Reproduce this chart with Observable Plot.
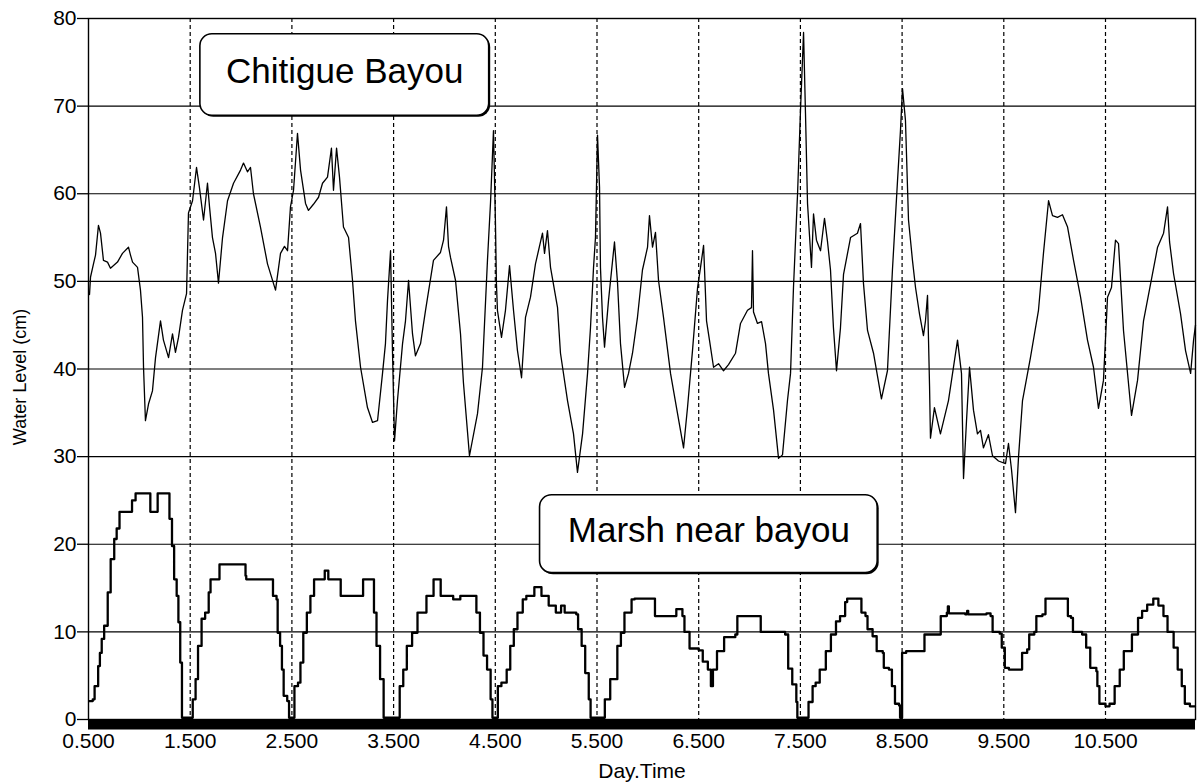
<!DOCTYPE html>
<html>
<head>
<meta charset="utf-8">
<script src="https://cdn.jsdelivr.net/npm/d3@7"></script>
<script src="https://cdn.jsdelivr.net/npm/@observablehq/plot@0.6"></script>
<style>
  html, body { margin: 0; padding: 0; background: #fff; }
  #chart { width: 1202px; height: 783px; }
</style>
</head>
<body>
<div id="chart"></div>
<script>
// ---------- data ----------
const xTicks = [0.5, 1.5, 2.5, 3.5, 4.5, 5.5, 6.5, 7.5, 8.5, 9.5, 10.5];
const yTicks = [0, 10, 20, 30, 40, 50, 60, 70, 80];
const seriesNames = ["Chitigue Bayou", "Marsh near bayou"];

const bayouDay = [0.510,0.520,0.549,0.569,0.598,0.618,0.647,0.687,0.716,0.785,0.834,0.893,0.913,0.933,0.982,1.011,1.031,1.041,1.060,1.090,1.129,1.159,1.208,1.237,1.287,1.326,1.355,1.385,1.424,1.464,1.483,1.523,1.562,1.591,1.631,1.670,1.690,1.719,1.749,1.778,1.818,1.867,1.926,1.995,2.024,2.063,2.093,2.122,2.191,2.260,2.339,2.388,2.427,2.457,2.486,2.516,2.555,2.585,2.634,2.663,2.712,2.762,2.801,2.850,2.889,2.909,2.939,2.968,3.007,3.057,3.096,3.125,3.175,3.243,3.293,3.342,3.391,3.420,3.440,3.470,3.489,3.509,3.538,3.588,3.617,3.647,3.686,3.715,3.765,3.814,3.892,3.961,3.991,4.020,4.040,4.060,4.109,4.158,4.187,4.246,4.325,4.374,4.423,4.453,4.482,4.501,4.511,4.521,4.561,4.600,4.640,4.679,4.718,4.758,4.797,4.846,4.895,4.964,4.984,5.013,5.043,5.112,5.141,5.210,5.269,5.308,5.358,5.407,5.436,5.466,5.485,5.505,5.525,5.534,5.554,5.574,5.613,5.672,5.702,5.731,5.771,5.810,5.849,5.898,5.947,5.997,6.016,6.046,6.075,6.105,6.154,6.223,6.292,6.351,6.390,6.439,6.489,6.518,6.548,6.577,6.606,6.646,6.695,6.744,6.793,6.862,6.911,6.980,7.019,7.029,7.039,7.078,7.118,7.157,7.186,7.236,7.285,7.324,7.373,7.403,7.432,7.472,7.501,7.531,7.550,7.570,7.609,7.629,7.658,7.698,7.737,7.767,7.796,7.825,7.855,7.894,7.924,7.993,8.061,8.091,8.120,8.160,8.219,8.297,8.356,8.405,8.455,8.484,8.504,8.533,8.563,8.602,8.632,8.671,8.710,8.730,8.750,8.770,8.779,8.818,8.877,8.956,9.045,9.084,9.104,9.133,9.163,9.202,9.241,9.271,9.300,9.349,9.389,9.448,9.517,9.546,9.576,9.615,9.645,9.684,9.762,9.841,9.890,9.940,9.979,10.028,10.077,10.127,10.186,10.255,10.323,10.382,10.431,10.480,10.520,10.559,10.598,10.628,10.677,10.756,10.815,10.874,10.963,11.012,11.071,11.110,11.130,11.169,11.238,11.287,11.337,11.366,11.385];
const bayouLevel = [48.5,50.5,52.0,53.0,56.4,55.5,52.4,52.2,51.5,52.2,53.2,53.9,53.0,52.2,51.6,49.0,45.9,40.2,34.1,36.0,37.5,41.3,45.5,43.3,41.3,44.0,41.9,43.6,46.7,48.6,57.8,59.2,63.0,60.7,57.0,61.2,58.5,55.0,53.2,49.8,55.0,59.2,61.2,62.7,63.5,62.5,63.0,60.0,56.2,52.0,49.0,53.2,54.0,53.5,58.5,60.4,66.9,62.7,58.9,58.1,58.8,59.6,61.2,61.9,65.2,60.4,65.2,61.9,56.2,55.0,50.1,45.5,40.2,35.6,33.9,34.1,39.5,42.9,47.8,53.5,42.0,31.8,36.4,42.9,45.5,50.1,44.0,41.5,42.9,46.7,52.4,53.3,54.7,58.5,54.0,52.7,50.1,44.0,38.4,30.1,34.9,40.2,52.4,59.0,67.2,57.0,49.8,46.7,43.6,46.7,51.8,46.7,42.1,39.0,45.9,48.2,52.0,55.5,53.2,55.8,51.6,47.0,41.8,36.4,32.6,28.2,32.6,39.5,44.7,51.6,55.0,66.7,60.7,51.6,45.9,42.5,47.8,54.5,49.8,42.9,37.9,39.5,41.8,45.9,51.3,53.9,57.5,53.9,55.6,50.1,45.9,39.5,34.9,31.0,35.6,42.1,49.3,51.6,54.1,45.5,43.3,40.2,40.6,39.8,40.5,41.8,45.2,46.7,47.0,53.5,46.5,45.2,45.4,42.9,39.5,35.3,29.8,30.2,36.4,39.5,49.3,60.0,69.5,78.4,69.2,58.9,51.6,57.7,54.7,53.5,57.2,54.5,51.3,44.7,39.8,44.7,50.8,55.0,55.5,56.6,49.8,44.4,41.8,36.6,39.8,51.3,61.5,67.2,72.0,68.4,57.0,52.4,49.3,46.3,43.8,45.5,48.4,38.0,32.1,35.6,32.6,36.4,43.3,39.5,27.5,34.0,40.2,35.3,32.6,33.0,31.0,32.5,30.1,29.5,29.2,31.5,28.5,23.6,30.0,36.4,41.3,46.7,53.2,59.2,57.5,57.3,57.6,56.2,52.4,48.2,43.3,40.2,35.5,38.7,48.2,49.3,54.7,54.3,44.4,34.7,38.7,45.5,50.9,53.9,55.5,58.5,54.5,50.9,46.3,42.1,39.5,43.3,45.0];

const marshDay = [0.507,0.542,0.560,0.595,0.612,0.630,0.654,0.689,0.718,0.753,0.777,0.805,0.893,0.928,0.963,1.103,1.108,1.174,1.180,1.279,1.296,1.321,1.342,1.367,1.384,1.402,1.419,1.507,1.525,1.553,1.577,1.612,1.647,1.682,1.700,1.770,1.788,2.016,2.044,2.051,2.296,2.314,2.349,2.360,2.384,2.402,2.419,2.454,2.472,2.507,2.525,2.560,2.584,2.612,2.647,2.682,2.718,2.770,2.823,2.858,2.946,2.980,3.191,3.200,3.296,3.307,3.332,3.367,3.402,3.542,3.560,3.595,3.630,3.682,3.735,3.823,3.858,3.893,3.946,3.963,4.086,4.156,4.296,4.314,4.349,4.384,4.419,4.454,4.472,4.507,4.525,4.560,4.595,4.612,4.647,4.682,4.718,4.770,4.805,4.884,4.954,5.025,5.095,5.147,5.182,5.296,5.314,5.349,5.384,5.419,5.437,5.542,5.577,5.630,5.700,5.735,5.770,5.840,5.870,6.050,6.070,6.260,6.280,6.340,6.360,6.410,6.500,6.540,6.590,6.620,6.640,6.680,6.750,6.860,6.880,7.100,7.110,7.350,7.380,7.420,7.460,7.470,7.560,7.580,7.620,7.650,7.690,7.750,7.800,7.850,7.890,7.940,7.960,8.080,8.100,8.140,8.160,8.210,8.250,8.310,8.320,8.370,8.400,8.430,8.470,8.480,8.490,8.500,8.540,8.680,8.720,8.850,8.880,8.940,8.950,8.960,9.120,9.140,9.150,9.330,9.370,9.390,9.460,9.480,9.510,9.550,9.640,9.680,9.730,9.750,9.800,9.820,9.880,9.910,10.110,10.130,10.160,10.180,10.270,10.310,10.350,10.410,10.420,10.440,10.500,10.540,10.590,10.640,10.680,10.760,10.820,10.860,10.910,10.970,11.020,11.070,11.110,11.170,11.210,11.250,11.280,11.330,11.380];
const marshLevel = [2.1,2.3,3.8,6.1,7.6,9.2,10.7,14.5,18.3,20.6,21.8,23.7,23.7,25.0,25.8,25.8,23.7,23.7,25.8,25.8,22.9,19.8,16.0,14.1,11.1,6.5,0.2,0.2,2.3,4.6,8.4,11.5,12.2,14.5,16.0,16.0,17.7,17.7,16.4,16.0,16.0,14.1,13.7,9.9,8.4,5.7,2.7,2.1,0.2,0.2,3.8,4.2,6.5,9.9,12.2,14.1,16.0,16.0,17.0,16.0,16.0,14.1,14.1,16.0,16.0,12.2,8.4,4.6,0.2,0.2,3.8,5.7,8.4,9.9,12.2,14.1,14.1,16.0,16.0,14.1,13.7,14.1,14.1,12.2,9.9,7.3,5.7,2.3,0.2,0.2,3.8,4.2,4.2,5.7,8.4,10.3,12.2,13.7,14.1,15.1,14.1,13.0,12.2,13.0,12.2,12.0,10.3,8.4,5.3,2.3,0.2,0.2,2.3,4.6,8.4,9.9,12.2,13.7,13.8,13.8,11.8,11.8,12.6,11.8,10.0,8.1,7.9,6.6,5.7,3.8,5.7,7.8,9.4,9.7,11.8,11.8,10.0,9.7,5.8,4.0,2.0,0.2,0.2,2.0,3.8,4.2,5.7,7.8,9.7,11.2,11.8,13.4,13.8,13.8,12.2,11.8,10.3,9.5,7.8,7.6,5.9,5.7,3.8,1.8,1.6,0.2,0.2,7.6,7.8,7.8,9.7,9.7,11.8,12.2,12.9,12.1,12.0,12.4,12.0,12.1,11.8,10.0,9.8,8.2,5.9,5.7,5.7,7.6,8.0,9.7,10.0,11.8,12.0,13.8,13.8,11.8,11.6,10.0,9.7,8.2,5.9,5.5,3.8,1.8,1.5,1.8,3.8,5.7,7.8,9.7,11.6,12.4,13.1,13.8,13.0,11.8,10.0,8.2,5.7,3.8,1.8,1.5,1.5];

// ---------- tables built from the arrays ----------
const bayou = bayouDay.map((d, i) => ({day: d, level: bayouLevel[i], series: seriesNames[0]}));
const marsh = marshDay.map((d, i) => ({day: d, level: marshLevel[i], series: seriesNames[1]}));

// annotation boxes (layout, in data units)
const boxes = [
  {label: seriesNames[0], x1: 1.60, x2: 4.44, y1: 68.9, y2: 78.2},
  {label: seriesNames[1], x1: 4.94, x2: 8.26, y1: 16.7, y2: 25.6}
];

const font = "'Liberation Sans', Arial, Helvetica, sans-serif";

const chart = Plot.plot({
  width: 1202,
  height: 783,
  marginLeft: 88,
  marginRight: 7,
  marginTop: 18,
  marginBottom: 64,
  style: {fontFamily: font, fontSize: "21px", color: "#000", background: "#fff"},
  x: {domain: [0.5, 11.385]},
  y: {domain: [0, 80]},
  marks: [
    // horizontal solid grid
    Plot.ruleY(yTicks.filter(v => v > 0 && v < 80), {stroke: "#000", strokeWidth: 1.1}),
    // vertical dashed grid
    Plot.ruleX(xTicks.slice(1), {stroke: "#000", strokeWidth: 1.2, strokeDasharray: "4,3"}),
    // annotation boxes
    Plot.rect(boxes, {x1: "x1", x2: "x2", y1: "y1", y2: "y2", fill: "#000", rx: 12, dx: 1.5, dy: 1.5}),
    Plot.rect(boxes, {x1: "x1", x2: "x2", y1: "y1", y2: "y2", fill: "#fff", stroke: "#000", strokeWidth: 1.6, rx: 12}),
    Plot.text(boxes, {x: d => (d.x1 + d.x2) / 2, y: d => (d.y1 + d.y2) / 2, text: "label", fontSize: 35, dy: -3, fill: "#000"}),
    // series
    Plot.line(bayou, {x: "day", y: "level", stroke: "#000", strokeWidth: 1.3}),
    Plot.line(marsh, {x: "day", y: "level", stroke: "#000", strokeWidth: 2.3, curve: "step-after"}),
    // thick baseline bar
    Plot.ruleY([0], {stroke: "#000", strokeWidth: 10, dy: 5}),
    Plot.frame({stroke: "#000", strokeWidth: 1.4}),
    // axes
    Plot.axisY({ticks: yTicks, tickSize: 11, tickPadding: 1, label: null, fontSize: 21, strokeWidth: 1.3}),
    Plot.axisX({ticks: xTicks, tickFormat: d3.format(".3f"), tickSize: 0, tickPadding: 14, label: null, fontSize: 21}),
    // axis titles
    Plot.text(["Water Level (cm)"], {text: d => d, frameAnchor: "left", textAnchor: "middle", lineAnchor: "middle", rotate: -90, dx: -68, dy: 8, fontSize: 18, fill: "#000"}),
    Plot.text(["Day.Time"], {text: d => d, frameAnchor: "bottom", textAnchor: "middle", lineAnchor: "middle", dy: 52, fontSize: 21, fill: "#000"})
  ]
});

document.getElementById("chart").appendChild(chart);
</script>
</body>
</html>
